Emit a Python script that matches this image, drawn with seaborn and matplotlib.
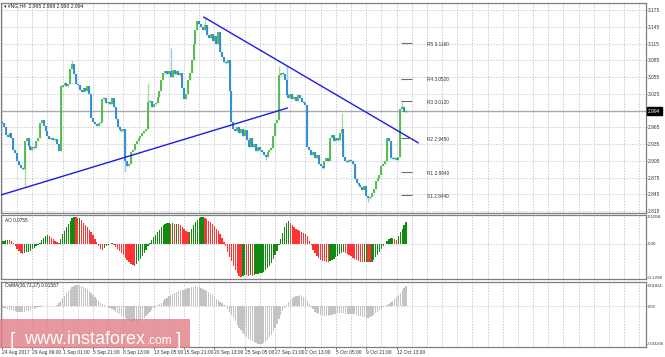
import matplotlib
matplotlib.use("Agg")
import matplotlib.pyplot as plt
import matplotlib.patches as patches
import matplotlib.transforms as mtrans
import seaborn as sns
import numpy as np

# ---- data (NG, H4) ----
close = [
    2.972, 2.965, 2.952, 2.948, 2.955, 2.945, 2.925, 2.918,
    2.905, 2.898, 2.892, 2.890, 2.940, 2.946, 2.932, 2.925,
    2.930, 2.928, 2.940, 2.945, 2.972, 2.978, 2.968, 2.958,
    2.950, 2.944, 2.946, 2.942, 2.944, 2.935, 2.922, 3.038,
    3.040, 3.044, 3.038, 3.042, 3.070, 3.078, 3.060, 3.042,
    3.040, 3.032, 3.028, 3.035, 3.030, 3.038, 3.025, 2.982,
    2.975, 2.970, 2.968, 2.972, 2.975, 3.015, 3.018, 3.008,
    3.010, 3.006, 3.018, 3.002, 2.980, 2.965, 2.960, 2.958,
    2.962, 2.905, 2.895, 2.900, 2.920, 2.925, 2.935, 2.940,
    2.945, 2.950, 2.955, 2.958, 2.962, 3.010, 3.012, 3.002,
    3.006, 3.008, 3.020, 3.030, 3.050, 3.062, 3.065, 3.060,
    3.066, 3.055, 3.068, 3.060, 3.066, 3.058, 3.062, 3.035,
    3.015, 3.025, 3.050, 3.062, 3.085, 3.115, 3.140, 3.155,
    3.150, 3.145, 3.140, 3.148, 3.130, 3.125, 3.132, 3.120,
    3.128, 3.115, 3.135, 3.100, 3.090, 3.082, 3.080, 3.086,
    3.030, 2.975, 2.962, 2.958, 2.965, 2.955, 2.962, 2.950,
    2.960, 2.942, 2.930, 2.945, 2.930, 2.935, 2.922, 2.930,
    2.925, 2.920, 2.915, 2.912, 2.920, 2.925, 2.928, 2.950,
    2.972, 2.978, 3.058, 3.062, 3.060, 3.050, 3.022, 3.018,
    3.025, 3.015, 3.020, 3.012, 3.022, 3.018, 3.010, 3.008,
    3.005, 2.930, 2.925, 2.915, 2.920, 2.910, 2.915, 2.900,
    2.895, 2.892, 2.905, 2.910, 2.905, 2.945, 2.952, 2.940,
    2.945, 2.942, 2.955, 2.962, 2.912, 2.905, 2.903, 2.907,
    2.905, 2.900, 2.872, 2.865, 2.862, 2.858, 2.852, 2.860,
    2.842, 2.838, 2.840, 2.848, 2.855, 2.868, 2.875, 2.880,
    2.895, 2.900, 2.905, 2.946, 2.940, 2.910, 2.908, 2.910,
    2.906, 2.912, 2.998, 3.002, 2.992, 2.994,
]
first_open = 2.975

# bars whose wicks stick out well beyond the body
wick_hi_idx = [37, 77, 89, 107, 146, 150, 179, 211]
wick_hi = [3.086, 3.045, 3.107, 3.162, 3.075, 3.075, 2.990, 3.010]
wick_lo_idx = [12, 65, 139, 193]
wick_lo = [2.858, 2.885, 2.906, 2.831]

ao = [
    0.010, 0.012, 0.014, 0.016, 0.015, 0.010, 0.002, -0.008,
    -0.018, -0.028, -0.036, -0.039, -0.036, -0.033, -0.030, -0.026,
    -0.020, -0.014, -0.008, -0.003, 0.004, 0.014, 0.024, 0.032,
    0.036, 0.030, 0.024, 0.018, 0.013, 0.008, 0.004, 0.020,
    0.038, 0.052, 0.066, 0.080, 0.092, 0.101, 0.106, 0.104,
    0.101, 0.103, 0.094, 0.084, 0.074, 0.065, 0.056, 0.045,
    0.034, 0.020, 0.006, -0.008, -0.018, -0.022, -0.016, -0.010,
    -0.004, 0.001, 0.003, -0.004, -0.012, -0.020, -0.028, -0.036,
    -0.044, -0.054, -0.063, -0.071, -0.078, -0.083, -0.085, -0.078,
    -0.068, -0.058, -0.046, -0.034, -0.022, -0.008, 0.004, 0.016,
    0.026, 0.036, 0.046, 0.056, 0.066, 0.074, 0.079, 0.081,
    0.082, 0.080, 0.081, 0.079, 0.080, 0.078, 0.074, 0.066,
    0.058, 0.050, 0.046, 0.048, 0.060, 0.074, 0.086, 0.095,
    0.101, 0.104, 0.1058, 0.103, 0.098, 0.092, 0.086, 0.079,
    0.070, 0.060, 0.050, 0.038, 0.024, 0.008, -0.010, -0.030,
    -0.050, -0.068, -0.086, -0.102, -0.114, -0.124, -0.1298, -0.124,
    -0.120, -0.123, -0.126, -0.122, -0.124, -0.120, -0.118, -0.117,
    -0.116, -0.114, -0.110, -0.104, -0.096, -0.086, -0.074, -0.060,
    -0.044, -0.026, -0.006, 0.018, 0.042, 0.066, 0.082, 0.089,
    0.084, 0.076, 0.068, 0.060, 0.054, 0.050, 0.046, 0.043,
    0.040, 0.030, 0.012, -0.006, -0.022, -0.036, -0.046, -0.055,
    -0.062, -0.066, -0.068, -0.070, -0.071, -0.068, -0.064, -0.058,
    -0.052, -0.046, -0.040, -0.035, -0.032, -0.034, -0.038, -0.043,
    -0.048, -0.054, -0.060, -0.065, -0.068, -0.070, -0.071, -0.070,
    -0.069, -0.070, -0.071, -0.069, -0.062, -0.052, -0.042, -0.032,
    -0.020, -0.010, 0.000, 0.010, 0.018, 0.023, 0.025, 0.018,
    0.016, 0.030, 0.046, 0.060, 0.073, 0.085,
]

osma = [
    -0.0010, -0.0015, -0.0020, -0.0025, -0.0030, -0.0034, -0.0038, -0.0041,
    -0.0044, -0.0046, -0.0047, -0.0046, -0.0044, -0.0040, -0.0035, -0.0030,
    -0.0025, -0.0019, -0.0014, -0.0009, -0.0005, -0.0002, 0.0000, 0.0001,
    0.0002, 0.0003, 0.0004, 0.0005, 0.0007, 0.0012, 0.0025, 0.0045,
    0.0068, 0.0090, 0.0112, 0.0132, 0.0150, 0.0165, 0.0175, 0.0181,
    0.01824, 0.0180, 0.0175, 0.0167, 0.0157, 0.0145, 0.0130, 0.0115,
    0.0098, 0.0080, 0.0062, 0.0045, 0.0030, 0.0018, 0.0008, 0.0002,
    -0.0004, -0.0012, -0.0022, -0.0033, -0.0045, -0.0057, -0.0069, -0.0081,
    -0.0092, -0.0102, -0.0111, -0.0119, -0.0125, -0.0129, -0.0131, -0.0130,
    -0.0126, -0.0119, -0.0109, -0.0096, -0.0081, -0.0064, -0.0047, -0.0030,
    -0.0015, -0.0003, 0.0008, 0.0020, 0.0033, 0.0046, 0.0059, 0.0072,
    0.0085, 0.0097, 0.0108, 0.0117, 0.0125, 0.0132, 0.0137, 0.0140,
    0.0143, 0.0148, 0.0154, 0.0160, 0.0165, 0.0168, 0.0170, 0.0169,
    0.0166, 0.0160, 0.0152, 0.0142, 0.0131, 0.0119, 0.0106, 0.0093,
    0.0080, 0.0067, 0.0054, 0.0041, 0.0028, 0.0014, 0.0000, -0.0020,
    -0.0045, -0.0072, -0.0100, -0.0128, -0.0155, -0.0181, -0.0205, -0.0226,
    -0.0245, -0.0262, -0.0276, -0.0288, -0.0298, -0.0306, -0.0312, -0.0318,
    -0.03206, -0.0318, -0.0311, -0.0300, -0.0284, -0.0264, -0.0240, -0.0212,
    -0.0180, -0.0146, -0.0110, -0.0075, -0.0042, -0.0012, 0.0014, 0.0036,
    0.0054, 0.0068, 0.0079, 0.0087, 0.0092, 0.0094, 0.0092, 0.0084,
    0.0068, 0.0046, 0.0020, -0.0005, -0.0026, -0.0044, -0.0058, -0.0068,
    -0.0075, -0.0080, -0.0082, -0.0083, -0.0081, -0.0077, -0.0072, -0.0067,
    -0.0063, -0.0060, -0.0058, -0.0058, -0.0059, -0.0061, -0.0063, -0.0064,
    -0.0064, -0.0065, -0.0068, -0.0073, -0.0079, -0.0085, -0.0090, -0.0094,
    -0.0096, -0.0096, -0.0092, -0.0084, -0.0073, -0.0060, -0.0046, -0.0032,
    -0.0019, -0.0008, 0.0002, 0.0012, 0.0024, 0.0037, 0.0050, 0.0064,
    0.0080, 0.0097, 0.0116, 0.0136, 0.0156, 0.0172,
]

price_ticks = [3.175, 3.145, 3.115, 3.085, 3.055, 3.025, 2.995,
               2.965, 2.935, 2.905, 2.875, 2.845, 2.815]
last_price = 2.994
date_labels = ["24 Aug 2017", "29 Aug 09:00", "1 Sep 01:00", "5 Sep 21:00",
               "8 Sep 13:00", "13 Sep 05:00", "15 Sep 21:00", "20 Sep 13:00",
               "25 Sep 05:00", "27 Sep 21:00", "2 Oct 13:00", "5 Oct 05:00",
               "9 Oct 21:00", "12 Oct 13:00"]
pivot_names = ["R5", "R4", "R3", "R2", "R1", "S1"]
pivot_levels = [3.1160, 3.0520, 3.0120, 2.9450, 2.8840, 2.8440]
# trend lines (bar index, price)
support_x = [-0.5, 150.5]
support_y = [2.8437, 2.9995]
resist_x = [106.3, 219.5]
resist_y = [3.1625, 2.9370]

# ---- style ----
sns.set_theme(style="white")
plt.rcParams["font.family"] = ["Liberation Sans", "DejaVu Sans"]
GRID = "#b3bac6"
FRAME = "#7f7f7f"
FS = 3.4

W, H = 665, 357
fig = plt.figure(figsize=(W / 100, H / 100), dpi=100)
fig.patch.set_facecolor("white")


def px_axes(x0, y0, x1, y1):
    return fig.add_axes([x0 / W, 1 - y1 / H, (x1 - x0) / W, (y1 - y0) / H])


ax = px_axes(1, 3, 646, 213)
ax_ao = px_axes(1, 215, 646, 279)
ax_os = px_axes(1, 282, 646, 347)

XMIN, XMAX = -0.5, 339.5
for a in (ax, ax_ao, ax_os):
    a.set_facecolor("white")
    a.set_xlim(XMIN, XMAX)
    for s in a.spines.values():
        s.set_color(FRAME)
        s.set_linewidth(0.9)
    for k in range(0, 340, 8):
        a.axvline(k, color=GRID, ls=(0, (2, 2)), lw=0.5, zorder=0)
    a.yaxis.tick_right()
    a.tick_params(axis="y", labelsize=3.2, length=1.0, width=0.5, pad=0.3,
                  colors="#333333", right=True, left=False)

# ---- price panel ----
n = len(close)
idx = np.arange(n)
c = np.array(close)
o = np.array([first_open] + close[:-1])
hi = np.maximum(o, c)
lo = np.minimum(o, c)
hi[wick_hi_idx] = np.maximum(hi[wick_hi_idx], wick_hi)
lo[wick_lo_idx] = np.minimum(lo[wick_lo_idx], wick_lo)
# keep tiny bars visible (a couple of pixels tall)
mid = (hi + lo) / 2
hi = np.maximum(hi, mid + 0.0025)
lo = np.minimum(lo, mid - 0.0025)
b_top = np.maximum(np.maximum(o, c), (o + c) / 2 + 0.0012)
b_bot = np.minimum(np.minimum(o, c), (o + c) / 2 - 0.0012)
up = c >= o

for p in price_ticks:
    ax.axhline(p, color=GRID, ls=(0, (2, 2)), lw=0.5, zorder=0)
ax.axhline(last_price, color="#a9a9a9", lw=1.0, zorder=1)

ax.vlines(idx[up], lo[up], hi[up], color="#a9dca2", lw=1.0, zorder=2)
ax.vlines(idx[~up], lo[~up], hi[~up], color="#96cdec", lw=1.0, zorder=2)
ax.vlines(idx[up], b_bot[up], b_top[up], color="#4fb84a", lw=1.3, zorder=3)
ax.vlines(idx[~up], b_bot[~up], b_top[~up], color="#2489d3", lw=1.3, zorder=3)

sns.lineplot(x=support_x, y=support_y, ax=ax, color="#1c1ce0", lw=1.0,
             legend=False, zorder=4)
sns.lineplot(x=resist_x, y=resist_y, ax=ax, color="#1c1ce0", lw=1.0,
             legend=False, zorder=4)

ax.hlines(pivot_levels, 210.5, 216.3, color="#6e6e6e", lw=0.8, zorder=4)
for name, lvl in zip(pivot_names, pivot_levels):
    ax.text(224, lvl - 0.0022, f"{name} {lvl:.4f}", fontsize=FS,
            color="#333333", va="center", ha="left")

ax.set_ylim(2.81142, 3.18754)
ax.set_yticks(price_ticks)
ax.set_yticklabels(["" if abs(p - 2.995) < 1e-6 else f"{p:.3f}" for p in price_ticks],
                   fontsize=3.5)
ax.tick_params(axis="x", bottom=False, labelbottom=False)
ax.set_xlabel("")
ax.set_ylabel("")
blend = mtrans.blended_transform_factory(ax.transAxes, ax.transData)
ax.text(1.003, last_price, f"{last_price:.3f}", transform=blend, fontsize=3.5,
        color="white", va="center", ha="left",
        bbox=dict(boxstyle="square,pad=0.25", fc="black", ec="black"))
ax.text(0.004, 0.988, "\u25be #NG,H4  2.995 2.998 2.990 2.994", transform=ax.transAxes,
        fontsize=3.6, color="#222222", va="center", ha="left",
        family=["Liberation Sans", "DejaVu Sans"])

# ---- Awesome Oscillator ----
ao_arr = np.array(ao)
prev = np.concatenate([[ao_arr[0]], ao_arr[:-1]])
ao_colors = np.where(ao_arr >= prev, "#118a11", "#ff3333")
ax_ao.bar(idx, ao_arr, width=0.7, color=ao_colors, linewidth=0, zorder=2)
ax_ao.axhline(0, color=GRID, ls=(0, (2, 2)), lw=0.5, zorder=0)
ax_ao.set_ylim(-0.13765, 0.11365)
ax_ao.set_yticks([0.1058, 0.0, -0.1298])
ax_ao.set_yticklabels(["0.1058", "0.00", "-0.1298"])
ax_ao.tick_params(axis="x", bottom=False, labelbottom=False)
ax_ao.text(0.006, 0.92, "AO 0.0755", transform=ax_ao.transAxes, fontsize=FS,
           color="#222222", va="center", ha="left")

# ---- OsMA ----
ax_os.bar(idx, osma, width=0.7, color="#c3c3c3", linewidth=0, zorder=2)
ax_os.axhline(0, color=GRID, ls=(0, (2, 2)), lw=0.5, zorder=0)
ax_os.set_ylim(-0.03462, 0.02080)
ax_os.set_yticks([0.01824, 0.0, -0.03206])
ax_os.set_yticklabels(["0.01824", "0.00", "-0.03206"], fontsize=3.0)
ax_os.set_xticks([16 * k for k in range(len(date_labels))])
ax_os.set_xticklabels(date_labels, fontsize=3.5, ha="left", color="#333333")
ax_os.tick_params(axis="x", bottom=True, length=1.5, width=0.5, pad=1)
ax_os.text(0.006, 0.94, "OsMA(36,72,27) 0.01587", transform=ax_os.transAxes,
           fontsize=FS, color="#222222", va="center", ha="left")

# ---- watermark ----
fig.patches.append(patches.Rectangle((0, 1 - 348 / H), 190 / W, 29 / H,
                                     transform=fig.transFigure, fc="#e27e86",
                                     ec="none", alpha=0.8, zorder=10))
wm = dict(color="white", va="baseline", ha="left", zorder=11,
          family=["Liberation Sans", "DejaVu Sans"])
fig.text(10 / W, 1 - 345 / H, "[", fontsize=14, **wm)
fig.text(24 / W, 1 - 344 / H, "www.instaforex", fontsize=13, **wm)
fig.text(147 / W, 1 - 344 / H, ".com", fontsize=8.5, **wm)
fig.text(176 / W, 1 - 345 / H, "]", fontsize=14, **wm)

fig.savefig("out.png", dpi=100)
